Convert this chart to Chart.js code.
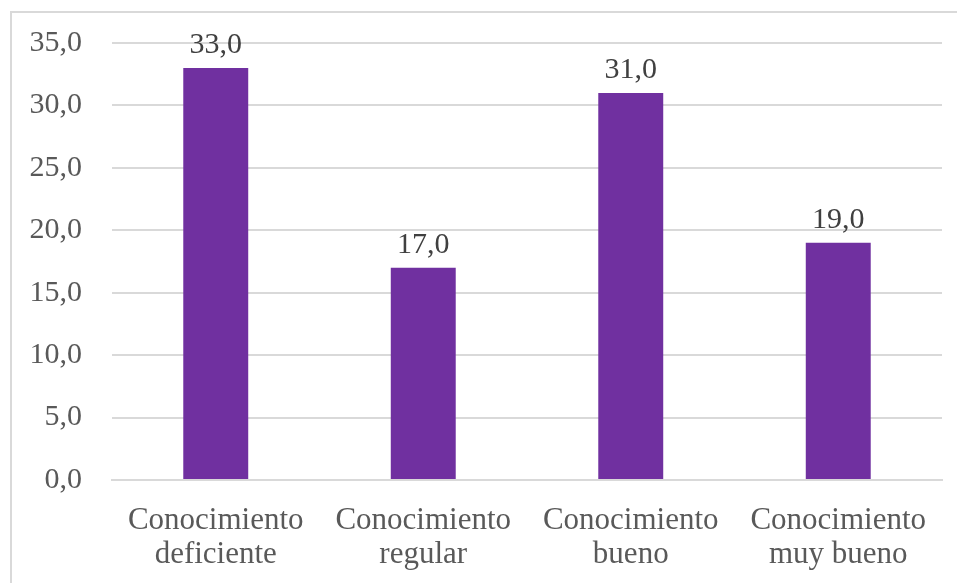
<!DOCTYPE html>
<html>
<head>
<meta charset="utf-8">
<script src="https://cdn.jsdelivr.net/npm/chart.js@4/dist/chart.umd.min.js"></script>
<style>
  html, body { margin: 0; padding: 0; background: #fff; overflow: hidden; }
  #frame { position: absolute; left: 10px; top: 11px; width: 1000px; height: 700px; border-left: 2px solid #d9d9d9; border-top: 2px solid #d9d9d9; }
  #wrap { position: absolute; left: 0; top: 0; width: 957px; height: 583px; }
</style>
</head>
<body>
<div id="frame"></div>
<div id="wrap"><canvas id="chart"></canvas></div>
<script>
  const categories = [
    ['Conocimiento', 'deficiente'],
    ['Conocimiento', 'regular'],
    ['Conocimiento', 'bueno'],
    ['Conocimiento', 'muy bueno']
  ];
  const values = [33.0, 17.0, 31.0, 19.0];
  const yTicks = [0, 5, 10, 15, 20, 25, 30, 35];

  const fmt = (v) => v.toFixed(1).replace('.', ',');
  const serif = '"Liberation Serif", "Times New Roman", serif';

  // etiquetas de valor encima de cada barra
  const valueLabels = {
    id: 'valueLabels',
    afterDatasetsDraw(chart) {
      const { ctx } = chart;
      const meta = chart.getDatasetMeta(0);
      ctx.save();
      ctx.font = '30px ' + serif;
      ctx.fillStyle = '#404040';
      ctx.textAlign = 'center';
      ctx.textBaseline = 'bottom';
      meta.data.forEach((bar, i) => {
        ctx.fillText(fmt(values[i]), bar.x, bar.y - 8);
      });
      ctx.restore();
    }
  };

  new Chart(document.getElementById('chart'), {
    type: 'bar',
    data: {
      labels: categories,
      datasets: [{
        data: values,
        backgroundColor: '#7030A0',
        categoryPercentage: 1,
        barPercentage: 0.313
      }]
    },
    options: {
      responsive: true,
      maintainAspectRatio: false,
      animation: false,
      layout: { padding: { top: 43, right: 15, left: 0, bottom: 0 } },
      plugins: { legend: { display: false }, tooltip: { enabled: false } },
      scales: {
        x: {
          grid: { display: false, drawTicks: false },
          border: { color: '#d9d9d9', width: 2 },
          ticks: {
            color: '#595959',
            font: { family: serif, size: 31, lineHeight: 1.1 },
            padding: 24,
            maxRotation: 0,
            autoSkip: false
          },
          afterFit(scale) { scale.height = 103; }
        },
        y: {
          min: 0,
          max: 35,
          afterBuildTicks(scale) { scale.ticks = yTicks.map((v) => ({ value: v })); },
          grid: { color: '#d9d9d9', lineWidth: 2, drawTicks: false },
          border: { display: false },
          ticks: {
            color: '#595959',
            font: { family: serif, size: 30 },
            padding: 30,
            callback: (v) => fmt(v)
          },
          afterFit(scale) {
            scale.width = 112;
            scale.paddingTop = 0;
            scale.paddingBottom = 0;
          }
        }
      }
    },
    plugins: [valueLabels]
  });
</script>
</body>
</html>
